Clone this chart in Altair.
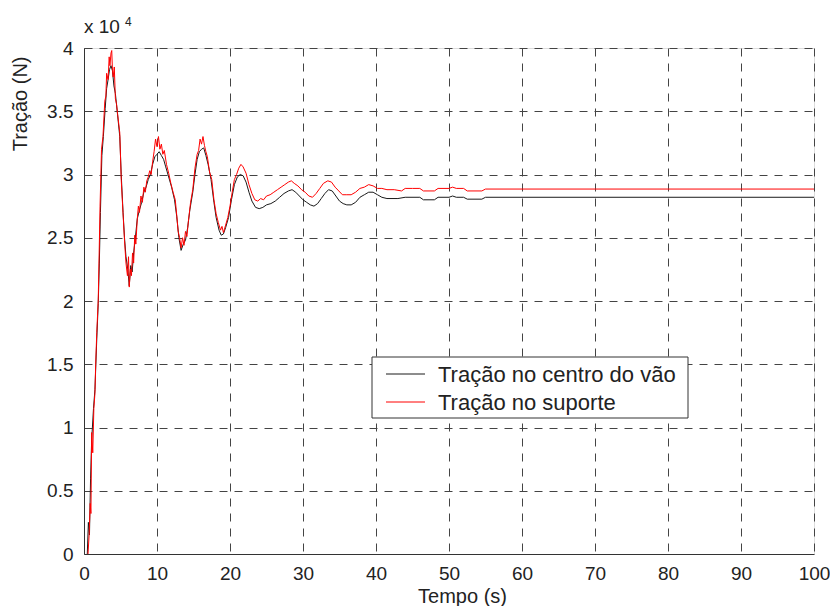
import altair as alt
import pandas as pd

# Tração no centro do vão (black) : time (s), tension (x1000 N)
t_centro = [0.45, 0.6, 0.75, 0.9, 1.05, 1.3, 1.5, 1.75, 1.95, 2.1, 2.25, 2.45, 2.65, 2.9, 3.1, 3.3, 3.5, 3.7, 3.9,
            4.1, 4.3, 4.55, 4.9, 5.1, 5.35, 5.55, 5.75, 6.0, 6.2, 6.4, 6.6, 6.8, 7.0, 7.3, 7.6, 7.9, 8.2, 8.5,
            8.8, 9.1, 9.4, 9.7, 10.0, 10.3, 10.6, 10.9, 11.2, 11.6, 12.0, 12.4, 12.7, 13.0, 13.3, 13.6, 13.9,
            14.2, 14.5, 14.9, 15.2, 15.5, 15.8, 16.1, 16.4, 16.7, 17.0, 17.4, 17.8, 18.1, 18.5, 18.8, 19.1,
            19.4, 19.8, 20.2, 20.6, 21.0, 21.4, 21.8, 22.2, 22.6, 23.0, 23.5, 24.0, 24.5, 25.0, 25.6, 26.2,
            26.8, 27.4, 28.0, 28.5, 29.0, 29.5, 30.0, 30.5, 31.0, 31.5, 32.0, 32.5, 33.0, 33.5, 34.0, 34.5,
            35.0, 35.5, 36.0, 36.6, 37.2, 37.8, 38.4, 39.0, 39.6, 40.2, 40.8, 41.5, 43.0, 44.0, 46.0, 46.5,
            48.0, 48.5, 50.0, 50.5, 51.0, 52.0, 52.5, 54.5, 55.0, 100.0]
v_centro = [0, 2.5, 1.5, 6.0, 9.0, 11.5, 13.0, 17.0, 19.8, 23.0, 27.0, 31.5, 33.0, 35.2, 36.8, 37.5, 38.3, 38.6, 38.2,
            37.0, 36.4, 35.0, 33.0, 30.0, 27.0, 25.0, 23.5, 22.5, 21.2, 22.8, 22.3, 23.8, 24.8, 26.5, 27.2, 27.8,
            28.6, 29.0, 29.6, 30.0, 30.8, 31.4, 31.6, 31.8, 31.5, 31.2, 30.6, 29.8, 29.0, 28.0, 26.7, 25.0, 24.0,
            24.5, 24.8, 25.8, 27.2, 28.6, 30.0, 31.2, 31.8, 32.0, 32.1, 31.5, 30.8, 29.6, 27.8, 26.6, 25.6, 25.2,
            25.3, 25.8, 26.6, 28.0, 29.2, 29.8, 30.0, 29.9, 29.4, 28.6, 27.9, 27.4, 27.3, 27.4, 27.6, 27.7, 27.9,
            28.2, 28.5, 28.7, 28.8, 28.6, 28.3, 28.0, 27.8, 27.6, 27.5, 27.7, 28.1, 28.5, 28.8, 28.7, 28.3, 27.9,
            27.7, 27.6, 27.6, 27.8, 28.2, 28.4, 28.6, 28.6, 28.4, 28.2, 28.1, 28.1, 28.2, 28.2, 28.0, 28.0, 28.2,
            28.2, 28.3, 28.2, 28.2, 28.05, 28.05, 28.2, 28.2]

# Tração no suporte (red)
t_suporte = [0.55, 0.7, 0.85, 0.95, 1.05, 1.2, 1.35, 1.5, 1.6, 1.75, 1.95, 2.05, 2.2, 2.4, 2.6, 2.85, 3.0, 3.1, 3.3,
             3.45, 3.55, 3.7, 3.8, 3.9, 4.0, 4.15, 4.3, 4.45, 4.6, 4.9, 5.1, 5.35, 5.55, 5.75, 5.95, 6.1, 6.2,
             6.35, 6.5, 6.65, 6.8, 6.95, 7.1, 7.3, 7.45, 7.6, 7.8, 8.0, 8.2, 8.4, 8.6, 8.8, 9.0, 9.2, 9.4, 9.6,
             9.8, 10.0, 10.2, 10.4, 10.6, 10.8, 11.0, 11.3, 11.6, 11.9, 12.2, 12.5, 12.7, 12.9, 13.1, 13.3, 13.5,
             13.7, 13.9, 14.1, 14.3, 14.6, 14.9, 15.2, 15.5, 15.7, 15.9, 16.1, 16.3, 16.5, 16.7, 16.9, 17.2,
             17.5, 17.8, 18.1, 18.4, 18.7, 18.9, 19.1, 19.4, 19.7, 20.0, 20.3, 20.6, 20.9, 21.2, 21.5, 21.8,
             22.2, 22.6, 23.0, 23.4, 23.8, 24.2, 24.6, 25.0, 25.5, 26.0, 26.5, 27.0, 27.5, 28.0, 28.4, 28.8,
             29.3, 29.8, 30.3, 30.8, 31.3, 31.8, 32.3, 32.8, 33.4, 33.9, 34.4, 34.9, 35.4, 36.0, 36.6, 37.2,
             37.8, 38.4, 39.0, 39.6, 40.2, 40.8, 41.5, 42.5, 43.5, 44.0, 45.0, 46.0, 46.5, 48.0, 48.5, 50.0,
             50.5, 51.0, 52.0, 52.5, 54.5, 55.0, 100.0]
v_suporte = [0, 1.5, 4.0, 3.2, 9.6, 8.0, 11.5, 12.7, 15.0, 17.5, 20.1, 23.0, 27.5, 32.0, 33.0, 35.8, 36.2, 38.0, 37.5,
             39.3, 38.6, 39.6, 39.8, 38.2, 37.7, 38.5, 36.0, 35.6, 34.8, 33.3, 29.6, 26.9, 24.8, 23.0, 22.0, 23.5,
             21.1, 22.5, 22.0, 23.8, 23.0, 25.2, 24.5, 26.5, 27.5, 27.0, 28.3, 27.8, 29.0, 28.6, 29.5, 29.8, 30.3,
             30.0, 31.0, 31.8, 32.8, 32.2, 33.0, 32.0, 32.4, 31.6, 31.9, 30.8, 30.1, 29.3, 28.6, 28.0, 26.8, 25.5,
             25.0, 24.2, 25.0, 24.4, 25.5, 25.1, 26.3, 27.8, 28.8, 30.5, 31.6, 31.9, 32.8, 32.4, 33.0, 32.3, 31.8,
             31.4, 30.2, 29.6, 28.0, 26.9, 26.2, 25.6, 25.9, 25.4, 26.0, 26.6, 27.5, 28.6, 29.6, 30.0, 30.5, 30.8,
             30.6, 30.1, 29.2, 28.5, 28.0, 27.9, 28.1, 28.0, 28.3, 28.4, 28.6, 28.8, 29.0, 29.2, 29.4, 29.5, 29.3,
             29.1, 28.8, 28.6, 28.3, 28.2, 28.5, 28.9, 29.3, 29.5, 29.4, 29.0, 28.7, 28.4, 28.4, 28.4, 28.6, 28.9,
             29.0, 29.2, 29.1, 28.9, 28.9, 28.8, 28.8, 28.7, 28.9, 28.9, 28.9, 28.7, 28.7, 28.9, 28.9, 29.0, 28.9,
             28.9, 28.7, 28.7, 28.85, 28.85]

series_names = ["Tração no centro do vão", "Tração no suporte"]
series_colors = ["#1a1a1a", "#ff0000"]
x_ticks = [0, 10, 20, 30, 40, 50, 60, 70, 80, 90, 100]
y_ticks = [0, 0.5, 1, 1.5, 2, 2.5, 3, 3.5, 4]  # x 10^4

rows = []
for i, (t, v) in enumerate(zip(t_centro, v_centro)):
    rows.append({"t": t, "F": v * 1000, "serie": series_names[0], "ord": i})
for i, (t, v) in enumerate(zip(t_suporte, v_suporte)):
    rows.append({"t": t, "F": v * 1000, "serie": series_names[1], "ord": i})
df = pd.DataFrame(rows)

FONT = "Liberation Sans"
TXT = "#222222"
W, H = 730, 506
grid_kw = dict(grid=True, gridColor="#444444", gridDash=[8, 7], gridWidth=1,
               domainColor="#333333", ticks=False, labelFont=FONT, labelFontSize=19,
               labelColor=TXT, labelFlush=False, titleFont=FONT, titleFontSize=20,
               titleColor=TXT, titleFontWeight="normal")

lines = alt.Chart(df).mark_line(strokeWidth=1, interpolate="linear").encode(
    x=alt.X("t:Q", scale=alt.Scale(domain=[0, 100], nice=False),
            axis=alt.Axis(values=x_ticks, labelPadding=10,
                          title="Tempo (s)", titleX=378, titleY=48, titleBaseline="alphabetic",
                          **grid_kw)),
    y=alt.Y("F:Q", scale=alt.Scale(domain=[0, 40000], nice=False),
            axis=alt.Axis(values=[v * 10000 for v in y_ticks],
                          labelExpr="datum.value / 10000", labelPadding=11,
                          title="Tração (N)", titleX=-64, titleY=8, titleAngle=270,
                          titleAlign="right", titleBaseline="middle", **grid_kw)),
    color=alt.Color("serie:N", scale=alt.Scale(domain=series_names, range=series_colors),
                    legend=None),
    order="ord:Q",
)

# multiplier "x 10^4"
mult = alt.Chart(pd.DataFrame({"txt": ["x 10"]})).mark_text(
    align="left", baseline="alphabetic", font=FONT, fontSize=19, color=TXT).encode(
    x=alt.value(0), y=alt.value(-15), text="txt:N")
expo = alt.Chart(pd.DataFrame({"txt": ["4"]})).mark_text(
    align="left", baseline="alphabetic", font=FONT, fontSize=12, color=TXT).encode(
    x=alt.value(41), y=alt.value(-22), text="txt:N")

# legend (box, sample lines, labels)
leg_box = alt.Chart(pd.DataFrame({"k": [0]})).mark_rect(
    fill="white", stroke="#333333", strokeWidth=1).encode(
    x=alt.value(288), x2=alt.value(604), y=alt.value(309), y2=alt.value(370))
leg_df = pd.DataFrame({"serie": series_names, "row": [0, 1]})
leg_lines = alt.Chart(leg_df).mark_rule(strokeWidth=1).encode(
    x=alt.value(302), x2=alt.value(341),
    y=alt.Y("row:Q", scale=alt.Scale(domain=[0, 1], range=[326, 354]), axis=None),
    color=alt.Color("serie:N", scale=alt.Scale(domain=series_names, range=series_colors),
                    legend=None),
)
leg_text = alt.Chart(leg_df).mark_text(
    align="left", baseline="alphabetic", font=FONT, fontSize=22, color=TXT).encode(
    x=alt.value(354),
    y=alt.Y("row:Q", scale=alt.Scale(domain=[0, 1], range=[334, 362]), axis=None),
    text="serie:N",
)

chart = alt.layer(lines, mult, expo, leg_box, leg_lines, leg_text).resolve_scale(
    y="independent"
).properties(
    width=W, height=H,
    autosize=alt.AutoSizeParams(type="none"),
    padding={"left": 76, "top": 40, "right": 16, "bottom": 52},
).configure_view(stroke="#333333", strokeWidth=1).configure(background="white")

chart.save("out.html", embed_options={"renderer": "svg", "actions": False})
